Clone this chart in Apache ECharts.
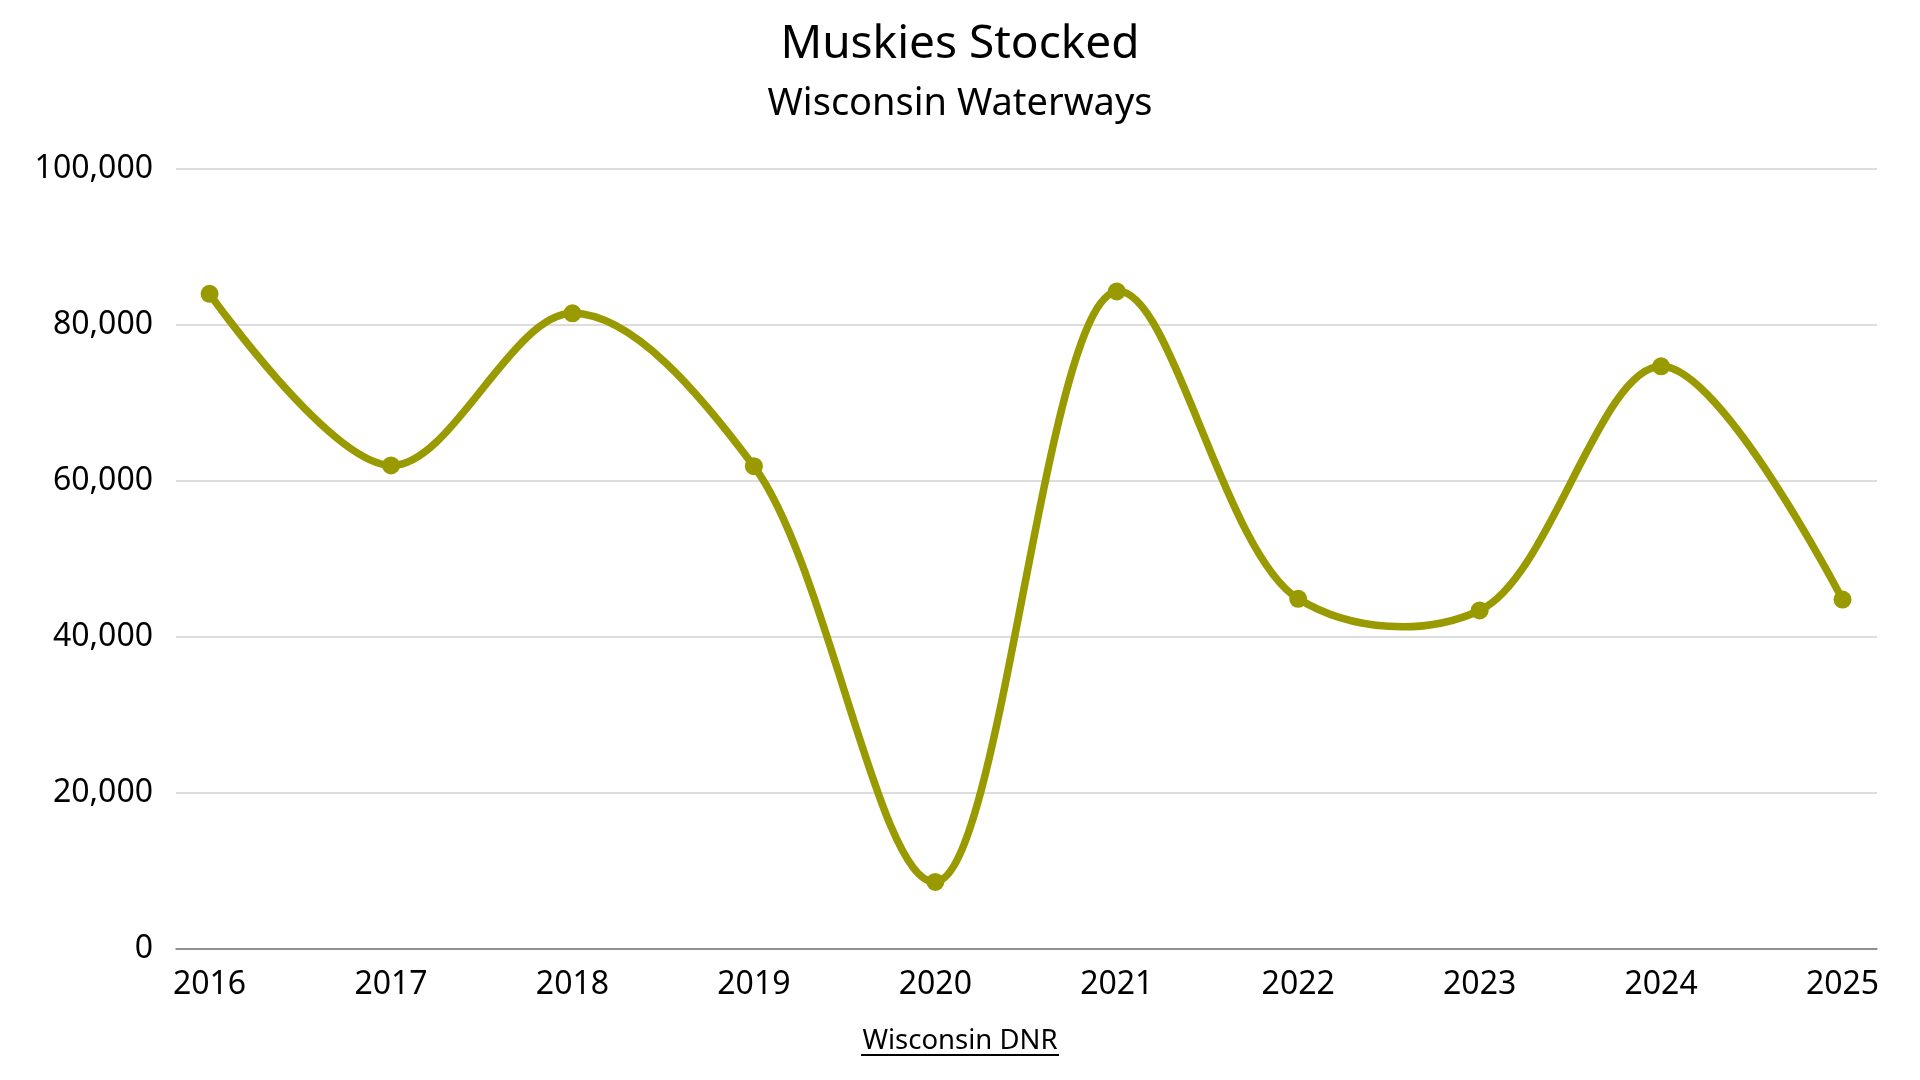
<!DOCTYPE html>
<html>
<head>
<meta charset="utf-8">
<script src="https://cdn.jsdelivr.net/npm/echarts@6/dist/echarts.min.js"></script>
<style>html,body{margin:0;padding:0;background:#fff}#c{width:1920px;height:1080px}</style>
</head>
<body>
<div id="c"></div>
<script>
const years = [2016, 2017, 2018, 2019, 2020, 2021, 2022, 2023, 2024, 2025];
const stocked = [84000, 62000, 81500, 61900, 8600, 84300, 44900, 43400, 74700, 44800];
const yTicks = [0, 20000, 40000, 60000, 80000, 100000];
const titleText = 'Muskies Stocked';
const subtitleText = 'Wisconsin Waterways';
const sourceText = 'Wisconsin DNR';

const FONT = '"Noto Sans", sans-serif';
const LINE_COLOR = '#999900';

// centripetal Catmull-Rom (alpha 0.5) path through pixel points
function catmullRomPath(pts, alpha) {
  const d = (a, b) => Math.hypot(a[0] - b[0], a[1] - b[1]);
  let s = 'M' + pts[0][0] + ',' + pts[0][1];
  for (let i = 0; i < pts.length - 1; i++) {
    const p0 = pts[i - 1], p1 = pts[i], p2 = pts[i + 1], p3 = pts[i + 2];
    const l12 = d(p1, p2);
    const l12a = Math.pow(l12, alpha), l12_2a = Math.pow(l12, 2 * alpha);
    let c1 = [p1[0], p1[1]], c2 = [p2[0], p2[1]];
    if (p0) {
      const l01 = d(p0, p1), l01a = Math.pow(l01, alpha), l01_2a = Math.pow(l01, 2 * alpha);
      const a = 2 * l01_2a + 3 * l01a * l12a + l12_2a;
      const n = 3 * l01a * (l01a + l12a);
      c1 = [(p1[0] * a - p0[0] * l12_2a + p2[0] * l01_2a) / n,
            (p1[1] * a - p0[1] * l12_2a + p2[1] * l01_2a) / n];
    }
    if (p3) {
      const l23 = d(p2, p3), l23a = Math.pow(l23, alpha), l23_2a = Math.pow(l23, 2 * alpha);
      const b = 2 * l23_2a + 3 * l23a * l12a + l12_2a;
      const m = 3 * l23a * (l23a + l12a);
      c2 = [(p2[0] * b + p1[0] * l23_2a - p3[0] * l12_2a) / m,
            (p2[1] * b + p1[1] * l23_2a - p3[1] * l12_2a) / m];
    }
    s += 'C' + c1[0] + ',' + c1[1] + ',' + c2[0] + ',' + c2[1] + ',' + p2[0] + ',' + p2[1];
  }
  return s;
}

const chart = echarts.init(document.getElementById('c'));
chart.setOption({
  backgroundColor: '#ffffff',
  animation: false,
  title: [
    { text: titleText, left: 'center', top: 17, textStyle: { fontFamily: FONT, fontSize: 46, fontWeight: 'normal', color: '#000' } },
    { text: subtitleText, left: 'center', top: 80, textStyle: { fontFamily: FONT, fontSize: 38, fontWeight: 'normal', color: '#000' } },
    { text: sourceText, left: 'center', top: 1022, textStyle: { fontFamily: FONT, fontSize: 27.5, fontWeight: 'normal', color: '#000' } }
  ],
  graphic: [
    { type: 'rect', left: 'center', top: 1054, shape: { width: 198, height: 2 }, style: { fill: '#000' } }
  ],
  grid: { left: 176, right: 43, top: 169, bottom: 131, containLabel: false },
  xAxis: {
    type: 'value',
    min: 2015.815,
    max: 2025.19,
    splitLine: { show: false },
    axisLine: { show: true, onZero: false, lineStyle: { color: '#777', width: 1.5 } },
    axisTick: { show: false },
    axisLabel: {
      customValues: years,
      formatter: v => String(v),
      fontFamily: FONT, fontSize: 32, color: '#000', margin: 20
    }
  },
  yAxis: {
    type: 'value',
    min: 0, max: 100000, interval: 20000,
    axisLine: { show: false },
    axisTick: { show: false },
    splitLine: { lineStyle: { color: '#d2d2d2', width: 1.5 } },
    axisLabel: {
      formatter: v => v.toLocaleString('en-US'),
      fontFamily: FONT, fontSize: 32, color: '#000', margin: 23
    }
  },
  series: [
    {
      type: 'custom',
      data: years.map((y, i) => [y, stocked[i]]),
      z: 2,
      renderItem: function (params, api) {
        if (params.dataIndex !== 0) return null;
        const pts = years.map((y, i) => api.coord([y, stocked[i]]));
        return {
          type: 'path',
          shape: { pathData: catmullRomPath(pts, 0.5) },
          style: { fill: 'none', stroke: LINE_COLOR, lineWidth: 7.5, lineJoin: 'round', lineCap: 'round' }
        };
      }
    },
    {
      type: 'scatter',
      data: years.map((y, i) => [y, stocked[i]]),
      z: 3,
      symbol: 'circle',
      symbolSize: 18,
      itemStyle: { color: LINE_COLOR, opacity: 1 }
    }
  ]
});
</script>
</body>
</html>
